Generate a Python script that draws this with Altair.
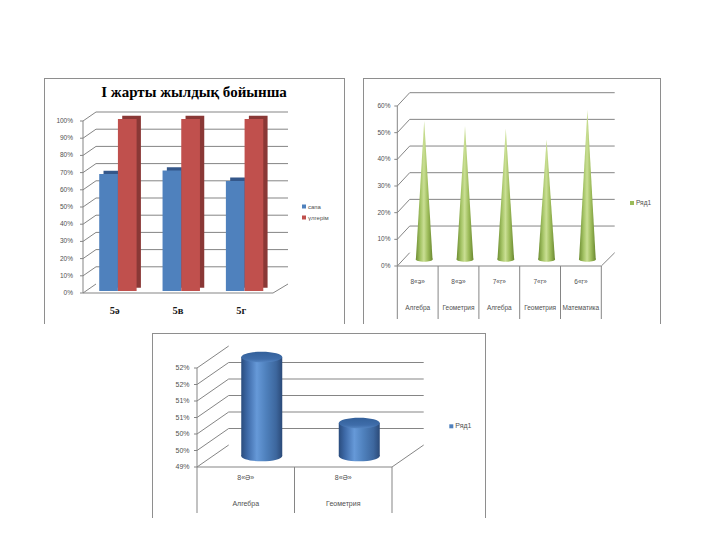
import altair as alt
import pandas as pd

# ---------------- data ----------------
c1_title = "І жарты жылдық бойынша"
c1_classes = ["5ә", "5в", "5г"]
c1_series = ["сапа", "үлгерім"]
c1_sapa = [68, 70, 64]
c1_ulgerim = [100, 100, 100]
c1_ticks = [0, 10, 20, 30, 40, 50, 60, 70, 80, 90, 100]
c1_tick_labels = ["0%", "10%", "20%", "30%", "40%", "50%", "60%", "70%", "80%", "90%", "100%"]

c2_classes = ["8«ә»", "8«ә»", "7«г»", "7«г»", "6«г»"]
c2_subjects = ["Алгебра", "Геометрия", "Алгебра", "Геометрия", "Математика"]
c2_series = ["Ряд1"]
c2_values = [52, 50, 49, 45, 56]
c2_ticks = [0, 10, 20, 30, 40, 50, 60]
c2_tick_labels = ["0%", "10%", "20%", "30%", "40%", "50%", "60%"]

c3_classes = ["8«Ә»", "8«Ә»"]
c3_subjects = ["Алгебра", "Геометрия"]
c3_series = ["Ряд1"]
c3_values = [52.0, 50.0]
c3_ticks = [49, 49.5, 50, 50.5, 51, 51.5, 52]
c3_tick_labels = ["49%", "50%", "50%", "51%", "51%", "52%", "52%"]

# ---------------- styles ----------------
SANS = "Liberation Sans"
SERIF = "Liberation Serif"
GRID = "#858585"
FRAME = "#8e8e8e"
TXT = "#505050"


def grad(stops, vertical=False):
    return alt.LinearGradient(
        gradient="linear",
        stops=[alt.GradientStop(color=c, offset=o) for o, c in stops],
        x1=0, x2=0 if vertical else 1, y1=0, y2=1 if vertical else 0,
    )


def ellipse(r):
    k = 0.5523
    a = k * r
    return (f"M-1,0 C-1,{-a:.4f} {-k},{-r} 0,{-r} C{k},{-r} 1,{-a:.4f} 1,0 "
            f"C1,{a:.4f} {k},{r} 0,{r} C{-k},{r} -1,{a:.4f} -1,0 Z")


def frame(W, H):
    c = alt.Chart(pd.DataFrame({"a": [0]}))
    return [
        c.mark_rule(color=FRAME).encode(x=alt.value(0.5), y=alt.value(0), y2=alt.value(H)),
        c.mark_rule(color=FRAME).encode(x=alt.value(W - 0.5), y=alt.value(0), y2=alt.value(H)),
        c.mark_rule(color=FRAME).encode(x=alt.value(0), x2=alt.value(W), y=alt.value(0.5)),
    ]


def legend_item(x, y, color, label, fs):
    d = pd.DataFrame({"t": [label]})
    sq = alt.Chart(d).mark_square(size=16, opacity=1, color=color).encode(
        x=alt.value(x), y=alt.value(y))
    tx = alt.Chart(d).mark_text(align="left", baseline="middle", font=SANS,
                                fontSize=fs, color=TXT).encode(
        x=alt.value(x + 4), y=alt.value(y), text="t:N")
    return [sq, tx]


def axes3d(tdf, ys, ax_x, dx, dy, floor_end, grid_end, label_x, fs, grid_filter, base):
    c = alt.Chart(tdf)
    Y = alt.Y("v:Q", scale=ys, axis=None)
    fl = c.transform_filter(alt.datum.v == base)
    return [
        c.transform_filter(grid_filter).mark_rule(color=GRID, yOffset=dy).encode(
            x=alt.value(ax_x + dx), x2=alt.value(grid_end), y=Y),
        c.mark_rule(color=GRID, y2Offset=dy).encode(
            x=alt.value(ax_x), x2=alt.value(ax_x + dx), y=Y, y2="v:Q"),
        fl.mark_rule(color=GRID).encode(x=alt.value(ax_x), x2=alt.value(floor_end), y=Y),
        fl.mark_rule(color=GRID, y2Offset=dy).encode(
            x=alt.value(floor_end), x2=alt.value(grid_end), y=Y, y2="v:Q"),
        c.mark_rule(color=GRID).encode(
            x=alt.value(ax_x), y=alt.Y("min(v):Q", scale=ys, axis=None), y2="max(v):Q"),
        c.mark_rule(color=GRID).encode(x=alt.value(ax_x - 3), x2=alt.value(ax_x), y=Y),
        c.mark_text(align="right", baseline="middle", font=SANS, fontSize=fs, color=TXT).encode(
            x=alt.value(label_x), y=Y, text="label:N"),
    ]


# ---------------- panel 1 ----------------
W1, H1 = 301, 246
y1 = alt.Scale(domain=[0, 100], range=[215, 43], nice=False, zero=False)
x1 = alt.Scale(domain=c1_classes, range=[39, 229], paddingInner=0.41, paddingOuter=0.205)
df1 = pd.DataFrame({
    "class": c1_classes * 2,
    "series": [c1_series[0]] * len(c1_classes) + [c1_series[1]] * len(c1_classes),
    "value": c1_sapa + c1_ulgerim,
})
t1 = pd.DataFrame({"v": c1_ticks, "label": c1_tick_labels})

p1_layers = frame(W1, H1)
p1_layers += axes3d(t1, y1, 39, 13, -9, 229, 244, 29, 6.5, "datum.v > 0", 0)

bar_styles = [("#4F81BD", "#34578A", -6.1), ("#C0504D", "#8A3836", 12.6)]
for s, (col, dark, off) in zip(c1_series, bar_styles):
    b = alt.Chart(df1).transform_filter(alt.datum.series == s)
    enc = dict(x=alt.X("class:N", scale=x1, axis=None),
               y=alt.Y("value:Q", scale=y1, axis=None), y2=alt.datum(0))
    p1_layers.append(b.mark_bar(color=dark, width=18.7, xOffset=off + 4.3,
                                yOffset=-5.3, y2Offset=-5.3).encode(**enc))
    p1_layers.append(b.mark_bar(color=col, width=18.7, xOffset=off,
                                yOffset=-2, y2Offset=-2).encode(**enc))

p1_layers.append(
    alt.Chart(pd.DataFrame({"class": c1_classes})).mark_text(
        font=SERIF, fontSize=10.5, fontWeight="bold", color="#1a1a1a", baseline="middle").encode(
        x=alt.X("class:N", scale=x1, axis=None), y=alt.value(233), text="class:N"))
p1_layers.append(
    alt.Chart(pd.DataFrame({"t": [c1_title]})).mark_text(
        font=SERIF, fontSize=15, fontWeight="bold", color="#000000", baseline="middle").encode(
        x=alt.value(150), y=alt.value(14), text="t:N"))
p1_layers += legend_item(260, 128.5, "#4F81BD", c1_series[0], 6)
p1_layers += legend_item(260, 139.5, "#C0504D", c1_series[1], 6)
p1 = alt.layer(*p1_layers).properties(width=W1, height=H1)

# ---------------- panel 2 ----------------
W2, H2 = 298, 246
y2s = alt.Scale(domain=[0, 60], range=[188, 28], nice=False, zero=False)
x2s = alt.Scale(domain=[-0.5, len(c2_values) - 0.5], range=[34.3, 238.3], nice=False, zero=False)
t2 = pd.DataFrame({"v": c2_ticks, "label": c2_tick_labels})
df2 = pd.DataFrame({"idx": list(range(len(c2_values))), "class": c2_classes,
                    "subject": c2_subjects, "value": c2_values})
cone_rows = []
for i, v in enumerate(c2_values):
    cone_rows += [{"cone": i, "pos": i - 0.204, "h": 0},
                  {"cone": i, "pos": i, "h": v},
                  {"cone": i, "pos": i + 0.204, "h": 0}]
cone_df = pd.DataFrame(cone_rows)
cone_grad = grad([(0, "#6E8E32"), (0.28, "#A6C567"), (0.48, "#CADF94"),
                  (0.72, "#9DBC5A"), (1, "#6A8830")])

p2_layers = frame(W2, H2)
p2_layers += axes3d(t2, y2s, 34.3, 12.4, -13.3, 238.3, 251.7, 27.5, 6.5, "datum.v > 0", 0)
p2_layers.append(
    alt.Chart(df2).mark_point(shape=ellipse(0.3), size=289, filled=True, fill=cone_grad,
                              opacity=1, strokeWidth=0, xOffset=6.5, yOffset=-6.7).encode(
        x=alt.X("idx:Q", scale=x2s, axis=None), y=alt.datum(0)))
p2_layers.append(
    alt.Chart(cone_df).mark_area(fill=cone_grad, xOffset=6.5, yOffset=-6.7, y2Offset=-6.7).encode(
        x=alt.X("pos:Q", scale=x2s, axis=None),
        y=alt.Y("h:Q", scale=y2s, axis=None), y2=alt.datum(0), detail="cone:N"))
bnd = pd.DataFrame({"b": [i - 0.5 for i in range(len(c2_values) + 1)]})
p2_layers.append(
    alt.Chart(bnd).mark_rule(color=GRID).encode(
        x=alt.X("b:Q", scale=x2s, axis=None), y=alt.value(188), y2=alt.value(241)))
p2_layers.append(
    alt.Chart(df2).mark_text(font=SANS, fontSize=6.5, color=TXT, baseline="middle").encode(
        x=alt.X("idx:Q", scale=x2s, axis=None), y=alt.value(203.7), text="class:N"))
p2_layers.append(
    alt.Chart(df2).mark_text(font=SANS, fontSize=6.5, color=TXT, baseline="middle").encode(
        x=alt.X("idx:Q", scale=x2s, axis=None), y=alt.value(230.3), text="subject:N"))
p2_layers += legend_item(269, 125, "#9BBB59", c2_series[0], 6.5)
p2 = alt.layer(*p2_layers).properties(width=W2, height=H2)

# ---------------- panel 3 ----------------
W3, H3 = 334, 185
y3s = alt.Scale(domain=[49, 52], range=[134, 35], nice=False, zero=False)
x3s = alt.Scale(domain=c3_subjects, range=[45, 240], paddingInner=0, paddingOuter=0)
t3 = pd.DataFrame({"v": c3_ticks, "label": c3_tick_labels})
df3 = pd.DataFrame({"class": c3_classes, "subject": c3_subjects, "value": c3_values})
cyl_grad = grad([(0, "#2A4C7D"), (0.15, "#3E6AA8"), (0.38, "#6699D8"),
                 (0.6, "#4F81BD"), (0.85, "#3D679E"), (1, "#2B4A78")])
top_grad = grad([(0, "#33609A"), (0.7, "#3F6DAA"), (1, "#5585C2")], vertical=True)

p3_layers = frame(W3, H3)
p3_layers += axes3d(t3, y3s, 45, 31.7, -22, 240, 271.7, 37.5, 7,
                    "datum.v > 49 && datum.v < 52", 49)
X3 = alt.X("subject:N", scale=x3s, axis=None)
p3_layers.append(
    alt.Chart(df3).mark_point(shape=ellipse(0.26), size=1681, filled=True, fill=cyl_grad,
                              opacity=1, strokeWidth=0, xOffset=16, yOffset=-11).encode(
        x=X3, y=alt.datum(49)))
p3_layers.append(
    alt.Chart(df3).mark_bar(fill=cyl_grad, width=41, xOffset=16, yOffset=-11, y2Offset=-11).encode(
        x=X3, y=alt.Y("value:Q", scale=y3s, axis=None), y2=alt.datum(49)))
p3_layers.append(
    alt.Chart(df3).mark_point(shape=ellipse(0.26), size=1681, filled=True, fill=top_grad,
                              opacity=1, strokeWidth=0, xOffset=16, yOffset=-11).encode(
        x=X3, y=alt.Y("value:Q", scale=y3s, axis=None)))
for bp in (0, 1):
    p3_layers.append(
        alt.Chart(df3).mark_rule(color=GRID).encode(
            x=alt.X("subject:N", scale=x3s, axis=None, bandPosition=bp),
            y=alt.value(134), y2=alt.value(180)))
p3_layers.append(
    alt.Chart(df3).mark_text(font=SANS, fontSize=7, color=TXT, baseline="middle").encode(
        x=X3, y=alt.value(145), text="class:N"))
p3_layers.append(
    alt.Chart(df3).mark_text(font=SANS, fontSize=7, color=TXT, baseline="middle").encode(
        x=X3, y=alt.value(171), text="subject:N"))
p3_layers += legend_item(299.3, 93.3, "#4F81BD", c3_series[0], 7)
p3 = alt.layer(*p3_layers).properties(width=W3, height=H3)

# ---------------- layout ----------------
spacer = alt.Chart(pd.DataFrame({"a": [0]})).mark_point(opacity=0).encode(
    x=alt.value(50), y=alt.value(5)).properties(width=107, height=10)

top = alt.hconcat(p1, p2, spacing=16)
bottom = alt.hconcat(spacer, p3, spacing=0)
chart = alt.vconcat(top, bottom, spacing=7).properties(
    padding={"left": 35, "top": 69, "right": 5, "bottom": 5}
).configure_view(strokeWidth=0).configure_axis(disable=True)

chart.save("out.html", embed_options={"renderer": "svg", "actions": False})
